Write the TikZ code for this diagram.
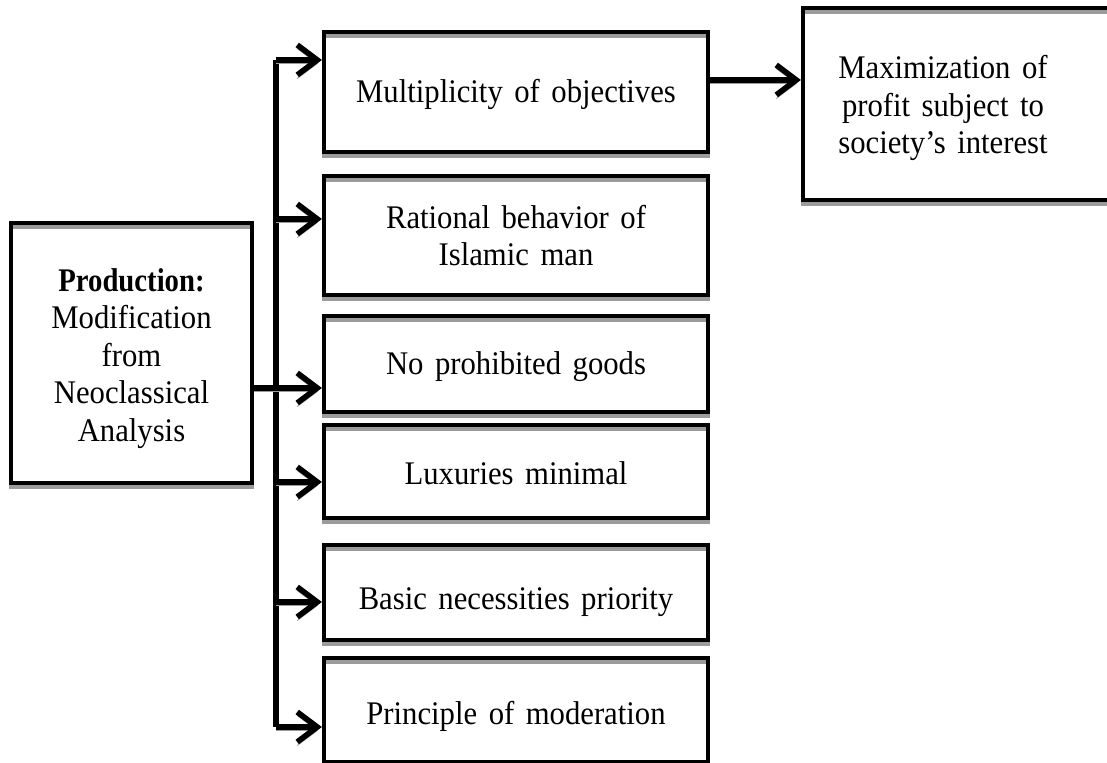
\documentclass[tikz,border=0pt]{standalone}
\usepackage{fontspec}
\setmainfont{Liberation Serif}[FakeStretch=0.93, WordSpace=1.5, BoldFeatures={FakeStretch=0.87}]
\usetikzlibrary{arrows.meta}
\definecolor{shadowgray}{RGB}{155,155,155}
\tikzset{
  shad/.style={preaction={draw=shadowgray, transform canvas={yshift=-1.8pt}}},
  box/.style={shad, draw=black, line width=2.1pt, inner sep=0pt},
  conn/.style={shad, draw=black, line width=2.8pt,
    -{Straight Barb[length=10pt,width=15pt,line width=2.8pt]}},
  trunk/.style={shad, draw=black, line width=2.8pt},
  lbl/.style={font=\fontsize{16.5}{18.75}\selectfont, align=center, inner sep=0pt}
}
\begin{document}
\begin{tikzpicture}[x=0.5pt,y=0.5pt]
\useasboundingbox (0,0) rectangle (1107,763);
% boxes
\node[box, minimum width=120.5pt, minimum height=130pt] (L) at (131.5,410) {};
\node[box, minimum width=192pt, minimum height=60pt] (b1) at (516,671) {};
\node[box, minimum width=192pt, minimum height=59.5pt] (b2) at (516,527.5) {};
\node[box, minimum width=192pt, minimum height=48pt] (b3) at (516,399) {};
\node[box, minimum width=192pt, minimum height=46.5pt] (b4) at (516,291.5) {};
\node[box, minimum width=192pt, minimum height=47.5pt] (b5) at (516,170.5) {};
\node[box, minimum width=192pt, minimum height=52pt] (b6) at (516,53) {};
\node[box, minimum width=161pt, minimum height=96pt] (r) at (964,659) {};
% labels
\node[lbl] (Lt) at (131.5,404.5) {\textbf{Production:}\\Modification\\from\\Neoclassical\\Analysis};
\node[lbl, anchor=base] (b1t) at (516,660) {Multiplicity of objectives};
\node[lbl] (b2t) at (516,527.5) {Rational behavior of\\Islamic man};
\node[lbl, anchor=base] (b3t) at (516,388) {No prohibited goods};
\node[lbl, anchor=base] (b4t) at (516,278) {Luxuries minimal};
\node[lbl, anchor=base] (b5t) at (516,153) {Basic necessities priority};
\node[lbl, anchor=base] (b6t) at (516,38) {Principle of moderation};
\node[lbl] (rt) at (943,655) {Maximization of\\profit subject to\\society’s interest};
% trunk coordinates
\coordinate (t1) at (276,703);
\coordinate (t2) at (276,544);
\coordinate (t3) at (276,375);
\coordinate (t4) at (276,281);
\coordinate (t5) at (276,161);
\coordinate (t6) at (276,36);
\coordinate (a) at (708,683);
% trunk
\draw[trunk] (t1) -- (t6);
% connectors
\draw[conn] (t1) -- (t1 -| b1.west);
\draw[conn] (t2) -- (t2 -| b2.west);
\draw[conn] (L.east |- t3) -- (t3 -| b3.west);
\draw[conn] (t4) -- (t4 -| b4.west);
\draw[conn] (t5) -- (t5 -| b5.west);
\draw[conn] (t6) -- (t6 -| b6.west);
\draw[conn] (a -| b1.east) -- (a -| r.west);
\end{tikzpicture}
\end{document}
